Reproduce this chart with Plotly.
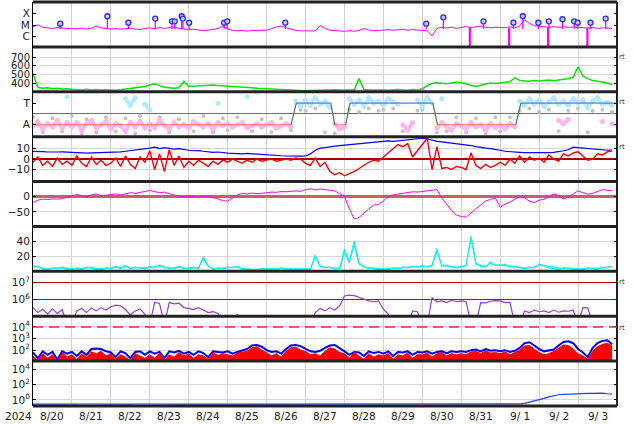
import numpy as np
import plotly.graph_objects as go
from plotly.subplots import make_subplots

STEP_H = 3  # hours between samples; series start 2024-08-20 00:00
day_labels = ["8/20", "8/21", "8/22", "8/23", "8/24", "8/25", "8/26", "8/27",
              "8/28", "8/29", "8/30", "8/31", "9/ 1", "9/ 2", "9/ 3"]
year_label = "2024"

# ---- panel 1: X-ray flux (log10 W/m2) ----
xray_log = [
    -5.15, -4.98, -5.20, -5.25, -5.30, -5.22, -5.28, -5.30,
    -5.30, -5.33, -5.27, -5.35, -5.30, -5.08, -5.25, -5.32,
    -5.35, -5.30, -5.36, -5.32, -5.28, -5.36, -5.38, -5.30,
    -5.25, -5.32, -5.20, -5.30, -5.24, -5.15, -5.30, -5.35,
    -5.40, -5.35, -5.45, -5.50, -5.44, -5.38, -5.30, -5.12,
    -5.35, -5.46, -5.50, -5.47, -5.53, -5.45, -5.50, -5.46,
    -5.45, -5.32, -5.16, -5.10, -5.22, -5.40, -5.48, -5.50,
    -5.50, -5.47, -5.52, -5.05, -5.30, -5.45, -5.50, -5.53,
    -5.55, -5.50, -5.54, -5.48, -5.30, -5.44, -5.50, -5.48,
    -5.45, -5.40, -5.46, -5.42, -5.37, -5.45, -5.40, -5.44,
    -5.48, -5.50, -5.95, -5.28, -5.20, -5.26, -5.18, -5.30,
    -5.20, -5.14, -5.22, -5.17, -5.10, -5.20, -5.24, -5.19,
    -5.20, -5.23, -5.15, -5.25, -5.10, -4.55, -4.85, -5.05,
    -5.10, -5.16, -5.20, -5.14, -5.20, -5.15, -5.21, -5.17,
    -5.20, -5.23, -5.26, -5.20, -5.30, -5.24, -5.28, -5.30]
flare_days = [0.70, 1.91, 2.45, 3.14, 3.57, 3.64, 3.82, 3.85, 4.01, 4.91, 4.99, 6.48,
              10.10, 10.54, 11.57, 12.34, 12.58, 12.98, 13.25, 13.60, 13.90, 13.99, 14.32, 14.71]
flare_log = [-4.88, -4.24, -4.80, -4.44, -4.68, -4.68, -4.24, -4.44, -4.80, -4.80, -4.68, -4.80,
             -4.88, -4.33, -4.68, -4.80, -4.24, -4.80, -4.68, -4.50, -4.68, -4.80, -4.80, -4.44]
xray_gap_days = [11.22, 12.23, 13.23, 14.24]

# ---- panel 2: solar wind speed (km/s) ----
speed = [
    510, 352, 340, 346, 336, 342, 331, 336,
    330, 326, 322, 329, 320, 326, 318, 323,
    320, 317, 323, 331, 336, 344, 351, 362,
    378, 392, 371, 352, 346, 340, 347, 420,
    362, 366, 371, 373, 376, 379, 373, 370,
    368, 364, 359, 356, 349, 346, 341, 338,
    335, 331, 326, 321, 318, 316, 312, 311,
    313, 315, 318, 316, 321, 318, 323, 320,
    322, 326, 320, 452, 326, 321, 318, 323,
    320, 318, 322, 326, 320, 318, 325, 322,
    335, 372, 396, 405, 398, 394, 401, 410,
    404, 394, 372, 361, 376, 386, 401, 396,
    401, 411, 416, 462, 432, 426, 421, 431,
    426, 431, 436, 429, 441, 446, 452, 470,
    590, 482, 452, 431, 421, 411, 402, 382]

# ---- panel 3: sector polarity (A = -1, T = +1) ----
sector_days = [0, 6.63, 6.76, 7.65, 7.75, 8.03, 8.14, 10.27, 10.39, 12.40, 12.53, 15]
sector_pol = [-1, -1, 1, 1, -1, -1, 1, 1, -1, -1, 1, 1]
N = None
phi_away = [
    -1.1, -0.7, -1.4, -0.9, -1.2, -0.6, -1.3, -0.8,
    -1.2, -0.8, -1.5, -0.9, -0.6, -1.3, -1.0, -0.7,
    -1.4, -0.9, -1.1, -1.6, -0.8, -1.2, -0.7, -1.3,
    -0.9, -1.3, -0.6, -1.1, -1.4, -0.8, -1.2, -1.0,
    -1.3, -0.7, -1.0, -1.2, -0.9, -1.4, -0.8, -1.1,
    -0.9, -1.2, -1.0, -0.8, -1.3, -1.1, -0.9, -1.2,
    -1.0, -0.8, -1.3, -1.1, -0.9, -1.2, N, N,
    N, N, N, N, N, N, -0.9, -1.4,
    -1.2, N, N, N, N, N, N, N,
    N, N, N, N, -1.0, -1.5, -0.8, N,
    N, N, N, -1.3, -0.8, -1.2, -1.5, -0.9,
    -1.1, -1.4, -0.8, -1.2, -1.0, -1.5, -0.9, -1.3,
    -1.0, -1.4, -0.9, -1.2, N, N, N, N,
    N, N, N, N, -0.6, -0.9, -0.5, N,
    N, N, N, N, N, -0.7, N, -0.9]
phi_toward = [
    N, N, N, N, N, N, N, 1.6,
    N, N, N, N, N, N, N, N,
    N, N, N, 1.4, 0.8, 1.5, N, 0.9,
    0.4, N, N, N, N, N, N, N,
    N, N, N, N, N, N, 1.0, N,
    N, N, N, N, 1.6, N, N, N,
    N, N, N, N, N, N, 1.2, 0.7,
    1.3, 0.8, 1.5, 0.9, 1.2, 0.6, N, N,
    N, 1.4, 0.9, 1.3, 0.7, 1.5, 1.0, 1.2,
    0.8, 1.4, 1.1, 0.9, N, N, N, 1.3,
    0.7, 1.5, 1.0, N, 1.4, N, N, N,
    N, N, N, N, N, N, N, N,
    N, N, N, N, 1.2, 0.8, 1.4, 0.9,
    1.3, 0.7, 1.1, 1.5, 0.9, 1.2, 0.8, 1.4,
    1.0, 1.3, 0.6, 1.2, 1.5, 0.9, 1.1, 0.8]
phi_other = [
    -0.3, N, -1.7, N, -0.4, N, -1.6, N,
    -0.2, N, -1.8, -0.5, N, -1.7, N, -0.3,
    N, -1.6, N, -0.4, N, -1.8, -0.2, N,
    -1.5, N, -0.3, N, -1.7, N, -0.5, N,
    N, -1.6, N, -0.2, N, -1.7, N, -0.4,
    -1.5, N, -0.3, N, N, -1.6, N, -0.5,
    N, -1.7, N, -0.4, N, -1.5, N, 0.4,
    0.3, N, 0.5, N, -1.7, N, -1.8, N,
    N, 0.4, N, 0.2, N, 0.5, N, 0.3,
    0.4, N, 0.5, N, -1.6, N, N, 0.3,
    0.4, N, N, -1.7, N, -1.6, N, -0.3,
    N, -1.7, N, -0.4, N, -1.8, N, -0.3,
    -1.6, N, -0.3, N, 0.3, N, 0.5, N,
    0.2, N, 0.4, N, -1.6, N, 0.3, N,
    0.5, N, -1.7, 0.3, N, 0.4, N, 0.2]

# ---- panel 4: IMF Bt (blue) and Bz (red), nT ----
bt = [
    7.5, 7.0, 7.2, 6.8, 6.5, 6.8, 7.0, 6.6,
    6.5, 6.2, 6.0, 5.8, 6.0, 5.5, 5.8, 6.0,
    6.2, 6.5, 7.0, 7.5, 8.0, 9.0, 9.5, 10.0,
    10.5, 11.5, 10.0, 11.0, 10.5, 9.5, 10.0, 9.0,
    8.5, 8.0, 8.2, 7.5, 7.0, 6.5, 6.8, 6.0,
    5.8, 5.5, 5.2, 5.0, 5.4, 5.0, 4.6, 4.2,
    4.0, 3.8, 3.5, 3.2, 3.0, 2.8, 2.6, 2.8,
    3.0, 5.0, 8.5, 10.5, 11.0, 12.0, 12.5, 13.0,
    13.5, 14.0, 14.5, 15.0, 15.5, 16.0, 16.5, 17.0,
    17.0, 17.5, 17.0, 17.5, 18.0, 18.5, 19.0, 19.5,
    20.0, 19.5, 18.0, 17.0, 16.5, 16.0, 15.5, 15.0,
    14.0, 13.5, 13.0, 12.0, 11.0, 10.5, 10.0, 9.5,
    8.5, 7.5, 7.0, 6.8, 6.5, 6.2, 6.5, 6.3,
    6.2, 6.0, 6.3, 6.5, 7.0, 8.0, 9.0, 11.5,
    11.0, 10.5, 10.0, 9.5, 9.0, 8.8, 8.5, 8.6]
bz = [
    -3, 2, -6, -2, -7, 1, -5, -2,
    -6, 3, -4, -7, 2, -5, -1, -6,
    -4, 1, -7, 3, -5, -9, 2, -3,
    8, -10, 5, -12, 9, -6, 3, -8,
    -2, -6, -1, -4, -7, -2, -5, -1,
    -3, 0, -2, -4, -1, -3, 0, -2,
    -1, 0, -2, -1, 0, -1, 1, 0,
    -4, -6, 1, -7, -3, -12, -15, -13,
    -16, -14, -12, -9, -6, -3, -1, -2,
    2, 6, 10, 14, 12, 15, 2, 8,
    15, 20, -10, 12, -9, -8, -10, -7,
    -8, -10, 6, -6, -9, -5, -8, -6,
    -3, -6, 0, -4, 3, -3, 2, -1,
    1, -3, 4, 0, -2, 5, 3, 6,
    7, 3, -1, 0, 5, 4, 7, 8]

# ---- panel 5: Dst (nT) ----
dst = [
    -20, -12, -9, -10, -8, -9, -7, -3,
    2, 6, 3, -1, 5, 8, 2, 4,
    6, 8, 5, 9, 12, 10, 14, 16,
    19, 15, 12, 14, 8, 4, 1, 0,
    -2, 0, -3, 1, -1, -4, -8, -14,
    -15, -5, 5, 10, 8, 11, 9, 10,
    12, 14, 13, 16, 15, 17, 18, 16,
    22, 25, 21, 24, 23, 20, 18, 10,
    0, -40, -73, -68, -53, -40, -28, -26,
    -15, 0, 5, 7, 10, 13, 15, 14,
    16, 18, 20, 22, -5, -26, -45, -60,
    -65, -67, -55, -40, -28, -15, -10, -5,
    -35, -25, -18, -10, 0, -5, -15, -20,
    -12, -9, 0, 8, 3, -9, -2, 8,
    18, 12, 7, 10, 15, 22, 20, 18]

# ---- panel 6: two cyan series ----
cyan_a = [
    8, 6, 4, 3, 5, 4, 6, 4,
    3, 5, 4, 6, 5, 3, 4, 5,
    4, 7, 5, 8, 4, 6, 5, 4,
    7, 5, 9, 6, 4, 5, 7, 4,
    5, 6, 4, 20, 8, 3, 5, 4,
    6, 5, 7, 4, 3, 2, 3, 4,
    3, 4, 3, 5, 4, 3, 4, 3,
    4, 3, 22, 8, 5, 6, 4, 5,
    30, 14, 41, 12, 6, 5, 4, 3,
    4, 3, 5, 4, 6, 5, 7, 6,
    8, 6, 9, 31, 7, 9, 6, 5,
    7, 8, 48, 12, 7, 6, 13, 9,
    8, 10, 6, 7, 5, 4, 6, 5,
    10, 7, 5, 4, 3, 5, 4, 3,
    4, 3, 5, 4, 3, 6, 5, 7]
cyan_b = [
    6, 7, 3, 4, 4, 5, 5, 3,
    4, 4, 3, 5, 6, 4, 3, 4,
    5, 6, 4, 7, 5, 5, 4, 5,
    6, 6, 8, 5, 5, 4, 6, 5,
    4, 5, 5, 17, 7, 4, 4, 5,
    5, 6, 6, 3, 4, 3, 2, 3,
    4, 3, 4, 4, 3, 4, 3, 4,
    3, 4, 19, 7, 6, 5, 5, 4,
    25, 12, 36, 10, 7, 4, 5, 4,
    3, 4, 4, 5, 5, 6, 6, 7,
    7, 7, 8, 27, 8, 8, 7, 6,
    6, 9, 44, 10, 8, 7, 11, 8,
    9, 8, 7, 6, 6, 5, 5, 6,
    9, 8, 6, 5, 4, 4, 5, 4,
    3, 4, 4, 5, 4, 5, 6, 6]

# ---- panel 7: electron fluence (log10) ----
e_fluence_log = [
    5.50, 5.20, 5.40, 5.10, 5.42, 5.15, 5.38, 4.50,
    4.50, 5.30, 5.45, 5.20, 5.48, 5.30, 5.50, 5.35,
    5.55, 5.65, 5.60, 5.40, 5.05, 5.30, 5.42, 5.10,
    4.50, 5.82, 5.75, 4.50, 5.80, 5.72, 5.76, 5.50,
    5.45, 5.38, 5.50, 5.35, 5.20, 5.25, 5.15, 4.50,
    4.50, 4.50, 5.10, 4.50, 4.50, 4.50, 4.50, 4.50,
    4.50, 4.50, 4.50, 4.50, 4.50, 4.50, 4.50, 4.50,
    4.50, 4.50, 5.20, 5.45, 5.30, 5.50, 5.35, 5.60,
    6.20, 6.25, 6.22, 6.10, 6.00, 5.90, 5.85, 5.90,
    5.40, 5.10, 4.50, 4.50, 4.50, 4.50, 5.30, 5.25,
    4.50, 4.50, 6.10, 5.85, 5.90, 5.80, 5.95, 5.85,
    5.90, 5.85, 4.50, 4.50, 5.80, 5.78, 5.88, 5.92,
    5.90, 5.80, 5.82, 4.50, 4.50, 5.30, 5.20, 5.35,
    5.25, 5.30, 5.20, 5.35, 5.22, 5.30, 5.28, 5.35,
    4.50, 5.50, 5.48, 4.50, 4.50, 4.50, 4.50, 4.50]

# ---- panel 8: particle flux (log10), blue and red ----
flux_blue_log = [
    1.80, 1.30, 1.90, 1.60, 1.85, 1.20, 1.90, 1.70,
    1.85, 1.50, 1.90, 1.60, 2.10, 2.15, 2.10, 1.90,
    1.80, 1.40, 1.90, 1.75, 1.30, 1.85, 1.90, 1.60,
    1.90, 1.70, 1.85, 1.30, 1.90, 1.80, 1.95, 1.70,
    1.85, 1.60, 1.90, 1.75, 1.40, 1.90, 1.85, 1.80,
    1.90, 1.70, 1.85, 1.95, 2.10, 2.40, 2.45, 2.30,
    2.00, 1.85, 1.90, 1.70, 2.10, 2.40, 2.45, 2.35,
    2.10, 1.90, 1.85, 1.95, 2.20, 2.40, 2.45, 2.20,
    1.90, 1.60, 1.85, 1.80, 1.50, 1.90, 1.75, 1.85,
    1.70, 1.90, 1.50, 1.85, 1.80, 1.90, 1.60, 1.85,
    1.80, 1.90, 1.70, 1.85, 1.90, 1.75, 1.90, 1.85,
    1.90, 1.85, 2.00, 2.05, 1.90, 2.10, 1.95, 2.00,
    1.90, 2.00, 1.85, 1.95, 2.20, 2.60, 2.68, 2.40,
    2.10, 1.90, 1.95, 2.05, 2.40, 2.70, 2.77, 2.60,
    2.10, 1.80, 1.40, 2.20, 2.60, 2.80, 2.86, 2.50]
flux_red_log = [
    1.50, 1.10, 1.70, 1.30, 1.60, 1.00, 1.80, 1.40,
    1.60, 1.20, 1.70, 1.40, 1.85, 1.70, 1.90, 1.50,
    1.70, 1.20, 1.60, 1.40, 1.10, 1.70, 1.50, 1.30,
    1.60, 1.30, 1.75, 1.10, 1.60, 1.40, 1.80, 1.50,
    1.70, 1.30, 1.60, 1.50, 1.20, 1.80, 1.55, 1.70,
    1.60, 1.50, 1.75, 1.80, 1.90, 2.20, 2.30, 2.00,
    1.80, 1.50, 1.70, 1.40, 1.90, 2.20, 2.25, 2.00,
    1.90, 1.60, 1.70, 1.50, 1.90, 2.20, 2.10, 1.80,
    1.70, 1.30, 1.80, 1.50, 1.20, 1.70, 1.40, 1.60,
    1.50, 1.70, 1.20, 1.60, 1.50, 1.75, 1.30, 1.60,
    1.60, 1.75, 1.40, 1.70, 1.80, 1.50, 1.70, 1.60,
    1.70, 1.60, 1.85, 1.90, 1.70, 1.95, 1.75, 1.80,
    1.70, 1.85, 1.60, 1.80, 2.00, 2.35, 2.40, 2.10,
    1.80, 1.60, 1.70, 1.90, 2.20, 2.45, 2.40, 2.10,
    1.70, 1.50, 1.20, 1.90, 2.30, 2.50, 2.60, 2.35]

# ---- panel 9: bottom series (log10) ----
low_flux_log = [
    -0.55, -0.56, -0.55, -0.54, -0.56, -0.55, -0.54, -0.55,
    -0.56, -0.55, -0.54, -0.55, -0.53, -0.55, -0.56, -0.55,
    -0.55, -0.54, -0.56, -0.55, -0.55, -0.54, -0.55, -0.56,
    -0.55, -0.54, -0.55, -0.56, -0.55, -0.55, -0.54, -0.55,
    -0.56, -0.55, -0.55, -0.54, -0.55, -0.56, -0.55, -0.54,
    -0.55, -0.55, -0.56, -0.55, -0.54, -0.55, -0.55, -0.56,
    -0.55, -0.54, -0.55, -0.55, -0.56, -0.55, -0.54, -0.55,
    -0.55, -0.53, -0.55, -0.56, -0.55, -0.54, -0.55, -0.55,
    -0.56, -0.55, -0.54, -0.55, -0.55, -0.56, -0.55, -0.54,
    -0.55, -0.55, -0.56, -0.55, -0.54, -0.55, -0.55, -0.56,
    -0.55, -0.54, -0.55, -0.55, -0.56, -0.55, -0.54, -0.55,
    -0.55, -0.56, -0.55, -0.54, -0.55, -0.55, -0.56, -0.55,
    -0.55, -0.56, -0.55, -0.54, -0.52, -0.45, -0.30, -0.12,
    0.00, 0.20, 0.40, 0.55, 0.67, 0.72, 0.76, 0.78,
    0.80, 0.82, 0.84, 0.86, 0.89, 0.88, 0.80, 0.76]

series = [xray_log, speed, phi_away, phi_toward, phi_other, bt, bz, dst, cyan_a, cyan_b,
          e_fluence_log, flux_blue_log, flux_red_log, low_flux_log]
for s in series:
    assert len(s) == 120, len(s)

t = np.arange(120) * STEP_H / 24.0

fig = make_subplots(rows=9, cols=1, shared_xaxes=True, vertical_spacing=0)

def line(x, y, color, width=1, row=1, **kw):
    fig.add_trace(go.Scatter(x=x, y=y, mode="lines", line=dict(color=color, width=width),
                             hoverinfo="skip", showlegend=False, **kw), row=row, col=1)

# panel 1
line(t, xray_log, "#ff00ff", 1, row=1)
sx, sy = [], []
for d, v in zip(flare_days, flare_log):
    sx += [d, d, None]; sy += [-5.35, v, None]
line(sx, sy, "#ff00ff", 1.3, row=1)
gx, gy = [], []
for d in xray_gap_days:
    gx += [d, d, None]; gy += [-5.25, -8, None]
line(gx, gy, "#ff00ff", 2.2, row=1)
fig.add_trace(go.Scatter(x=flare_days, y=flare_log, mode="markers",
                         marker=dict(symbol="circle", size=5, color="#c8c8ff",
                                     line=dict(color="#2a2aff", width=1.3)),
                         hoverinfo="skip", showlegend=False), row=1, col=1)

# panel 2
line(t, speed, "#00e600", 1.5, row=2)

# panel 3
fig.add_trace(go.Scatter(x=t, y=phi_other, mode="markers",
                         marker=dict(color="#c4c4c4", size=4),
                         hoverinfo="skip", showlegend=False), row=3, col=1)
fig.add_trace(go.Scatter(x=t, y=phi_away, mode="lines+markers",
                         line=dict(color="#ffb4f4", width=4),
                         marker=dict(color="#ffb4f4", size=5),
                         hoverinfo="skip", showlegend=False), row=3, col=1)
fig.add_trace(go.Scatter(x=t, y=phi_toward, mode="lines+markers",
                         line=dict(color="#b4e8ff", width=4),
                         marker=dict(color="#b4e8ff", size=5),
                         hoverinfo="skip", showlegend=False), row=3, col=1)
segs = {"A": ([], []), "T": ([], []), "X": ([], [])}
for i in range(len(sector_days) - 1):
    a, b = sector_pol[i], sector_pol[i + 1]
    key = "X" if a != b else ("T" if a > 0 else "A")
    segs[key][0].extend([sector_days[i], sector_days[i + 1], None])
    segs[key][1].extend([a, b, None])
line(*segs["A"], "#ff6a6a", 1.2, row=3)
line(*segs["T"], "#5a78ff", 1.2, row=3)
line(*segs["X"], "#4c7a4c", 1.2, row=3)

# panel 4
line(t, bt, "#0000ff", 1.2, row=4)
line(t, bz, "#ff0000", 1.4, row=4)

# panel 5
line(t, dst, "#ff00ff", 1, row=5)

# panel 6
line(t, cyan_a, "#10f0f0", 1.1, row=6)
line(t, cyan_b, "#10f0f0", 1.1, row=6)

# panel 7
line(t, e_fluence_log, "#a23ad6", 1.2, row=7)

# panel 8
line(t, flux_blue_log, "#0000ff", 2, row=8)
line(t, [0.5] * len(t), "rgba(0,0,0,0)", 0, row=8)
fig.add_trace(go.Scatter(x=t, y=flux_red_log, mode="lines", fill="tonexty",
                         fillcolor="#ff0000", line=dict(color="#ff0000", width=1),
                         hoverinfo="skip", showlegend=False), row=8, col=1)

# panel 9
line(t, low_flux_log, "#2040ff", 1.2, row=9)

sup = lambda n: "10<sup>%d</sup>" % n
yspec = {
    1: dict(range=[-6.9, -3.0], tickvals=[-6, -5, -4], ticktext=["C", "M", "X"], showgrid=False),
    2: dict(range=[300, 820], tickvals=[400, 500, 600, 700]),
    3: dict(range=[-2.1, 2.05], tickvals=[-1, 1], ticktext=["A", "T"], showgrid=False,
            zeroline=True, zerolinecolor="#6e6e6e", zerolinewidth=1),
    4: dict(range=[-21.5, 21.5], tickvals=[-10, 0, 10], zeroline=True,
            zerolinecolor="#a00000", zerolinewidth=1.5),
    5: dict(range=[-97, 48], tickvals=[-50, 0], zeroline=True,
            zerolinecolor="#c86060", zerolinewidth=2.5),
    6: dict(range=[0.4, 60.4], tickvals=[20, 40]),
    7: dict(range=[4.98, 7.68], tickvals=[6, 7], ticktext=[sup(6), sup(7)], gridcolor="#c00000"),
    8: dict(range=[1.06, 4.92], tickvals=[2, 3, 4], ticktext=[sup(2), sup(3), sup(4)]),
    9: dict(range=[-0.8, 5.07], tickvals=[0, 2, 4], ticktext=[sup(0), sup(2), sup(4)]),
}
for k in range(1, 10):
    base = dict(showline=True, linecolor="black", linewidth=1, mirror="ticks", ticks="inside",
                ticklen=3, tickcolor="black", showgrid=True, gridcolor="#d6d6d6", zeroline=False,
                fixedrange=True, tickfont=dict(size=10.5 if k != 2 else 10))
    base.update(yspec[k])
    fig.update_yaxes(row=k, col=1, **base)
    fig.update_xaxes(row=k, col=1, range=[0, 15], tickvals=[i + 0.5 for i in range(15)],
                     showticklabels=False, ticks="", showgrid=False,
                     zeroline=False, showline=False, fixedrange=True,
                     minor=dict(tickvals=list(range(1, 15)), showgrid=True,
                                gridcolor="#d3d3d3", ticks=""))

shapes = []
for k in range(10):
    shapes.append(dict(type="line", xref="paper", yref="paper", x0=0, x1=1, y0=k / 9, y1=k / 9,
                       line=dict(color="#222222", width=3)))
shapes.append(dict(type="line", xref="paper", yref="paper", x0=1, x1=1, y0=0, y1=1,
                   line=dict(color="#222222", width=2)))
shapes.append(dict(type="line", xref="paper", yref="y8", x0=0, x1=1, y0=4, y1=4,
                   line=dict(color="#e03030", width=1.5, dash="10px,6px")))

H = 404.0
ylab = -10 / H
ann = [dict(text=year_label, xref="paper", yref="paper", x=-15 / 584, y=ylab,
            showarrow=False, font=dict(size=10.5), xanchor="center", yanchor="middle")]
for i, lab in enumerate(day_labels):
    ann.append(dict(text=lab, xref="x9", yref="paper", x=i + 0.5, y=ylab, showarrow=False,
                    font=dict(size=10.5), xanchor="center", yanchor="middle"))
for ypx in [57, 102, 147, 282, 328]:
    ann.append(dict(text="rt", xref="paper", yref="paper", x=(622 - 33) / 584,
                    y=1 - (ypx - 2) / H, showarrow=False, font=dict(size=7, color="#333"),
                    xanchor="center", yanchor="middle"))

fig.update_layout(width=634, height=424, margin=dict(l=33, r=17, t=2, b=18),
                  plot_bgcolor="white", paper_bgcolor="white", showlegend=False,
                  font=dict(family="DejaVu Sans", size=10.5, color="#222222"),
                  shapes=shapes, annotations=ann)
fig.write_html("out.html", config={"displayModeBar": False, "staticPlot": True},
               post_script="document.body.style.margin='0px';document.body.style.overflow='hidden';")
